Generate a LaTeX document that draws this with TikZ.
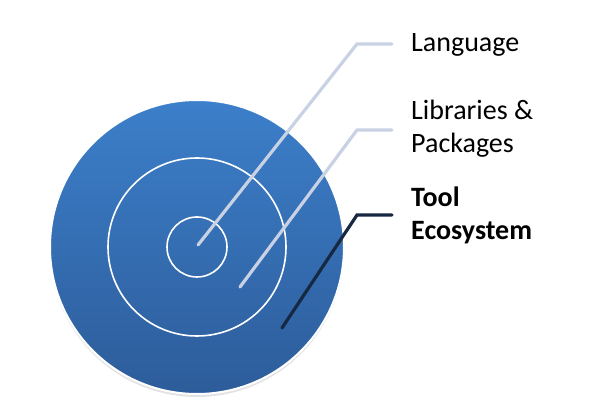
\documentclass[tikz,border=0pt]{standalone}
\usepackage{fontspec}
\setmainfont{Carlito}
\usepackage{xcolor}
\usetikzlibrary{shadows}
\definecolor{ringtop}{RGB}{60,127,202}
\definecolor{ringbot}{RGB}{45,92,154}
\definecolor{leadlight}{RGB}{200,210,228}
\definecolor{leaddark}{RGB}{22,40,66}

\begin{document}
\begin{tikzpicture}[x=1pt, y=-1pt]
\tikzset{
  ring/.style={circle,draw=white,line width=1.6pt,inner sep=0pt},
  lead/.style={line width=3.2pt,draw=leadlight,line cap=round},
  leaddk/.style={lead,draw=leaddark},
  lab/.style={anchor=base west,inner sep=0pt,align=left,font=\fontsize{28}{33}\selectfont}
}
\useasboundingbox (0,0) rectangle (590,406);
% ---- target rings
\node[ring,minimum size=294pt,top color=ringtop,bottom color=ringbot,
  line width=2pt,drop shadow={opacity=0.22,shadow xshift=0pt,shadow yshift=-3pt}] (outer) at (197,247) {};
\node[ring,minimum size=178pt] (mid) at (197,247) {};
\node[ring,minimum size=60pt] (core) at (197,247) {};
% ---- leader end points
\coordinate (langin) at (198,245);
\coordinate (langbend) at (357,44);
\coordinate (libin) at (240,287);
\coordinate (libbend) at (357,130);
\coordinate (toolin) at (282,328);
\coordinate (toolbend) at (357,215);
% ---- labels (base = last line)
\node[lab] (lang) at (411,52) {Language};
\node[lab] (lib) at (411,153) {Libraries \&\\Packages};
\node[lab,font=\fontsize{28}{33}\selectfont\bfseries] (tool) at (411,240) {Tool\\Ecosystem};
% ---- leaders
\draw[lead] (langin) -- (langbend) -- ++(35,0) coordinate (langout);
\draw[lead] (libin) -- (libbend) -- ++(35,0) coordinate (libout);
\draw[leaddk] (toolin) -- (toolbend) -- ++(35,0) coordinate (toolout);
\end{tikzpicture}
\end{document}
